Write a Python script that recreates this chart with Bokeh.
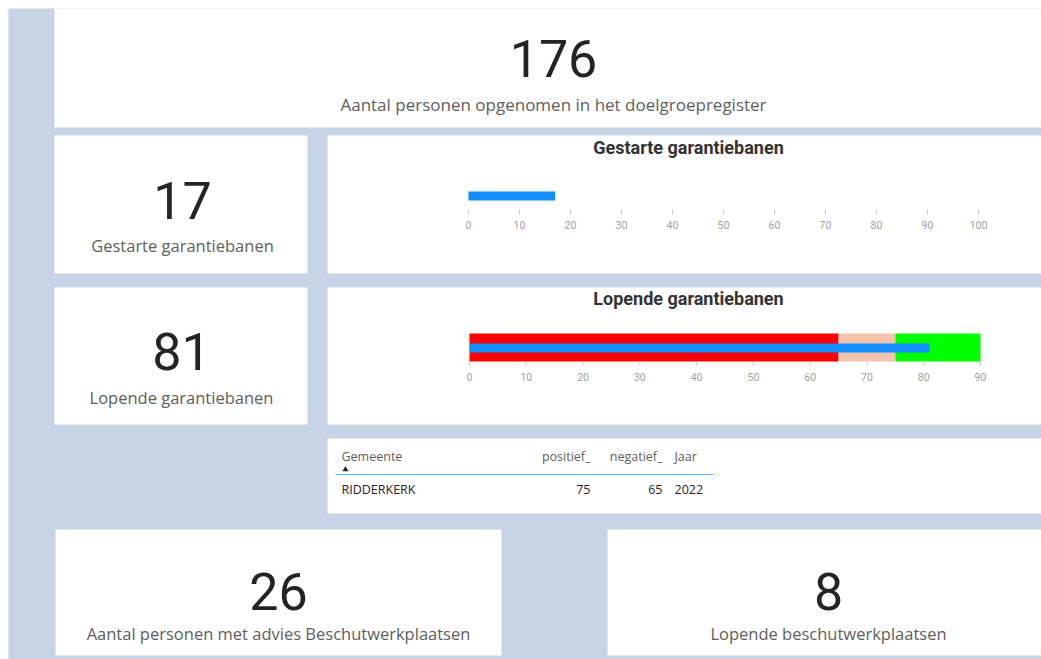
from bokeh.plotting import figure
from bokeh.models import Range1d, ColumnDataSource
from bokeh.core.properties import value
from bokeh.embed import file_html
from bokeh.resources import INLINE

# ---------------- data ----------------
kpi_values = [176, 17, 81, 26, 8]
kpi_labels = [
    "Aantal personen opgenomen in het doelgroepregister",
    "Gestarte garantiebanen",
    "Lopende garantiebanen",
    "Aantal personen met advies Beschutwerkplaatsen",
    "Lopende beschutwerkplaatsen",
]

gestart_title = "Gestarte garantiebanen"
gestart_value = [17]
gestart_ticks = [0, 10, 20, 30, 40, 50, 60, 70, 80, 90, 100]

lopend_title = "Lopende garantiebanen"
lopend_value = [81]
lopend_band_start = [0, 65, 75]
lopend_band_end = [65, 75, 90]
lopend_ticks = [0, 10, 20, 30, 40, 50, 60, 70, 80, 90]

table_header = ["Gemeente", "positief_", "negatief_", "Jaar"]
gemeente = ["RIDDERKERK"]
positief = [75]
negatief = [65]
jaar = [2022]

# ---------------- styles / layout ----------------
BG = "#C6D4E6"
PANEL = "#FFFFFF"
NUM_COLOR = "#252423"
LBL_COLOR = "#605E5C"
BLUE = "#118DFF"
BAND_COLORS = ["#FF0000", "#F4C3AE", "#00FF00"]
NUM_FONT = value("Roboto")
LBL_FONT = value("Open Sans")
TITLE_FONT = value("Roboto")

W, H = 1041, 659

p = figure(width=W, height=H, output_backend="svg", toolbar_location=None,
           x_range=Range1d(0, W), y_range=Range1d(H, 0),
           min_border=0, background_fill_color="#FFFFFF",
           border_fill_color="#FFFFFF", outline_line_color=None)
p.xaxis.visible = False
p.yaxis.visible = False
p.grid.visible = False

# dashboard canvas background (page pixels)
p.quad(left=[8], right=[W], top=[8], bottom=[H], fill_color=BG, line_color=None)

# panels (left, right, top, bottom) in page pixels
panels = dict(
    left=[54, 54, 327, 54, 327, 327, 55, 607],
    right=[1041, 307, 1041, 307, 1041, 1041, 501, 1041],
    top=[8, 135, 135, 287, 287, 438, 529, 529],
    bottom=[127, 273, 273, 424, 424, 513, 655, 655],
)
p.quad(source=ColumnDataSource(panels), left="left", right="right", top="top",
       bottom="bottom", fill_color=PANEL, line_color=None)

# ---------------- KPI cards ----------------
card_x = [553, 182, 181, 278, 828]
num_y = [58, 200, 351, 591, 591]
lbl_y = [104, 245, 397, 633, 633]
lbl_size = ["17px", "16.5px", "16.5px", "16.5px", "16.5px"]
cards = ColumnDataSource(dict(x=card_x, ny=num_y, ly=lbl_y, ls=lbl_size,
                              num=[str(v) for v in kpi_values], lbl=kpi_labels))
p.text(x="x", y="ny", text="num", source=cards, text_font=NUM_FONT,
       text_font_size="52px", text_color=NUM_COLOR, text_align="center",
       text_baseline="alphabetic")
p.text(x="x", y="ly", text="lbl", source=cards, text_font=LBL_FONT,
       text_font_size="ls", text_color=LBL_COLOR, text_align="center",
       text_baseline="alphabetic")

# ---------------- bullet chart 1 ----------------
# scale: value 0 at page x 468, 100 at page x 978
b1_x0, b1_x1, b1_max = 468, 978, 100
b1_ppu = (b1_x1 - b1_x0) / b1_max
p.extra_x_ranges["b1"] = Range1d(-b1_x0 / b1_ppu, (W - b1_x0) / b1_ppu)

p.text(x=[688], y=[147], text=[gestart_title], text_font=TITLE_FONT,
       text_font_size="18px", text_font_style="bold", text_color="#333333",
       text_align="center", text_baseline="alphabetic")
p.quad(left=[0], right=gestart_value, top=[191], bottom=[200],
       x_range_name="b1", fill_color=BLUE, line_color=None)
p.segment(x0=gestart_ticks, x1=gestart_ticks, y0=[209] * len(gestart_ticks),
          y1=[214] * len(gestart_ticks), x_range_name="b1",
          line_color="#C8C8C8", line_width=1)
p.text(x=gestart_ticks, y=[224] * len(gestart_ticks),
       text=[str(t) for t in gestart_ticks], x_range_name="b1",
       text_font=NUM_FONT, text_font_size="10.5px", text_color="#A0A0A0",
       text_align="center", text_baseline="middle")

# ---------------- bullet chart 2 ----------------
b2_x0, b2_x1, b2_max = 469, 980, 90
b2_ppu = (b2_x1 - b2_x0) / b2_max
p.extra_x_ranges["b2"] = Range1d(-b2_x0 / b2_ppu, (W - b2_x0) / b2_ppu)

p.text(x=[688], y=[298], text=[lopend_title], text_font=TITLE_FONT,
       text_font_size="18px", text_font_style="bold", text_color="#333333",
       text_align="center", text_baseline="alphabetic")
p.quad(left=lopend_band_start, right=lopend_band_end, top=[333] * 3,
       bottom=[361] * 3, x_range_name="b2", fill_color=BAND_COLORS,
       line_color=None)
p.quad(left=[0], right=lopend_value, top=[343], bottom=[352],
       x_range_name="b2", fill_color=BLUE, line_color=None)
p.segment(x0=lopend_ticks, x1=lopend_ticks, y0=[361] * len(lopend_ticks),
          y1=[365] * len(lopend_ticks), x_range_name="b2",
          line_color="#C8C8C8", line_width=1)
p.text(x=lopend_ticks, y=[376] * len(lopend_ticks),
       text=[str(t) for t in lopend_ticks], x_range_name="b2",
       text_font=NUM_FONT, text_font_size="10.5px", text_color="#A0A0A0",
       text_align="center", text_baseline="middle")

# ---------------- table ----------------
col_x = [341, 590, 662, 674]
col_align = ["left", "right", "right", "left"]
hdr = ColumnDataSource(dict(x=col_x, y=[456] * 4, t=table_header, a=col_align))
p.text(x="x", y="y", text="t", source=hdr, text_align="a",
       text_font=LBL_FONT, text_font_size="12.5px", text_color=LBL_COLOR,
       text_baseline="alphabetic")
p.scatter(x=[345], y=[469], marker="triangle", size=6, fill_color="#252423",
          line_color=None)
p.segment(x0=[335], x1=[713], y0=[474], y1=[474], line_color=BLUE,
          line_width=1, line_alpha=0.7)
row_text = [gemeente[0], str(positief[0]), str(negatief[0]), str(jaar[0])]
row = ColumnDataSource(dict(x=col_x, y=[489] * 4, t=row_text, a=col_align))
p.text(x="x", y="y", text="t", source=row, text_align="a",
       text_font=LBL_FONT, text_font_size="12.5px", text_color=NUM_COLOR,
       text_baseline="alphabetic")

open("out.html", "w").write(file_html(p, INLINE))
